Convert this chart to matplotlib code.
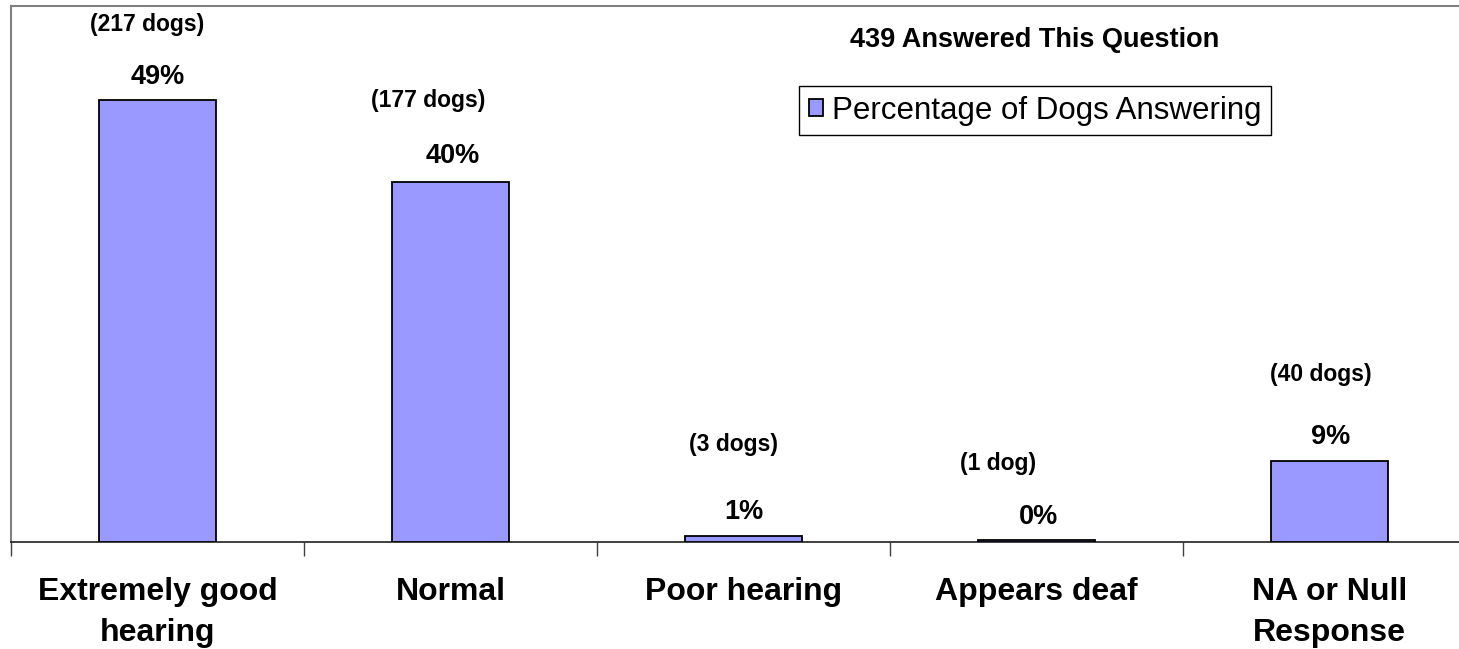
import matplotlib
matplotlib.use("Agg")
import matplotlib.pyplot as plt
import numpy as np

plt.rcParams['font.family'] = ['Liberation Sans', 'DejaVu Sans']

# data
categories = ["Extremely good\nhearing", "Normal", "Poor hearing",
              "Appears deaf", "NA or Null\nResponse"]
dogs = [217, 177, 3, 1, 40]
total_answered = 439
percent = [100 * d / total_answered for d in dogs]
pct_labels = ["49%", "40%", "1%", "0%", "9%"]
dog_labels = ["(217 dogs)", "(177 dogs)", "(3 dogs)", "(1 dog)", "(40 dogs)"]

# hand placed label offsets (pixels) as in the original
dog_dx = [-10, -22, -10, -38, -9]
dog_dy = [76, 81, 91, 76, 86]
pct_dx = [0, 2, 0, 2, 1]
pct_dy = [23, 26, 24, 23, 24]

W, H = 1459, 649
fig = plt.figure(figsize=(W / 100, H / 100), dpi=100)
ax = fig.add_axes([11 / W, 107 / H, 1465 / W, 536 / H])

x = np.arange(len(categories))
bars = ax.bar(x, percent, width=0.4, color="#9999FF", edgecolor="black",
              linewidth=1.3, label="Percentage of Dogs Answering", zorder=3)

ax.set_xlim(-0.5, len(categories) - 0.5)
ax.set_ylim(0, 60)
ax.set_yticks([])

ax.set_xticks(x)
ax.set_xticklabels(categories, fontsize=23, fontweight="bold", linespacing=1.5)
ax.tick_params(axis="x", which="major", length=0, pad=25)
ax.set_xticks(np.arange(-0.5, len(categories)), minor=True)
ax.tick_params(axis="x", which="minor", length=10, width=1, color="#404040")

for s in ["top", "left", "right"]:
    ax.spines[s].set_color("#808080")
    ax.spines[s].set_linewidth(1.5)
ax.spines["bottom"].set_color("#202020")
ax.spines["bottom"].set_linewidth(1.2)

px = 0.72  # points per pixel at dpi 100
for i, b in enumerate(bars):
    xc = b.get_x() + b.get_width() / 2
    top = b.get_height()
    ax.annotate(pct_labels[i], (xc, top), xytext=(pct_dx[i] * px, pct_dy[i] * px),
                textcoords="offset points", ha="center", va="center",
                fontsize=19.5, fontweight="bold", annotation_clip=False)
    ax.annotate(dog_labels[i], (xc, top), xytext=(dog_dx[i] * px, dog_dy[i] * px),
                textcoords="offset points", ha="center", va="center",
                fontsize=16.5, fontweight="bold", annotation_clip=False)

fig.text(1035 / W, 1 - 40 / H, f"{total_answered} Answered This Question",
         ha="center", va="center", fontsize=19.5, fontweight="bold")

leg = fig.legend(loc="center", bbox_to_anchor=(1035 / W, 1 - 110.5 / H),
                 fontsize=22.5, frameon=True, fancybox=False, framealpha=1,
                 edgecolor="black", handlelength=0.45, handleheight=0.45,
                 handletextpad=0.3, borderpad=0.3, borderaxespad=0)
leg.get_frame().set_linewidth(1)

fig.savefig("out.png", dpi=100)
